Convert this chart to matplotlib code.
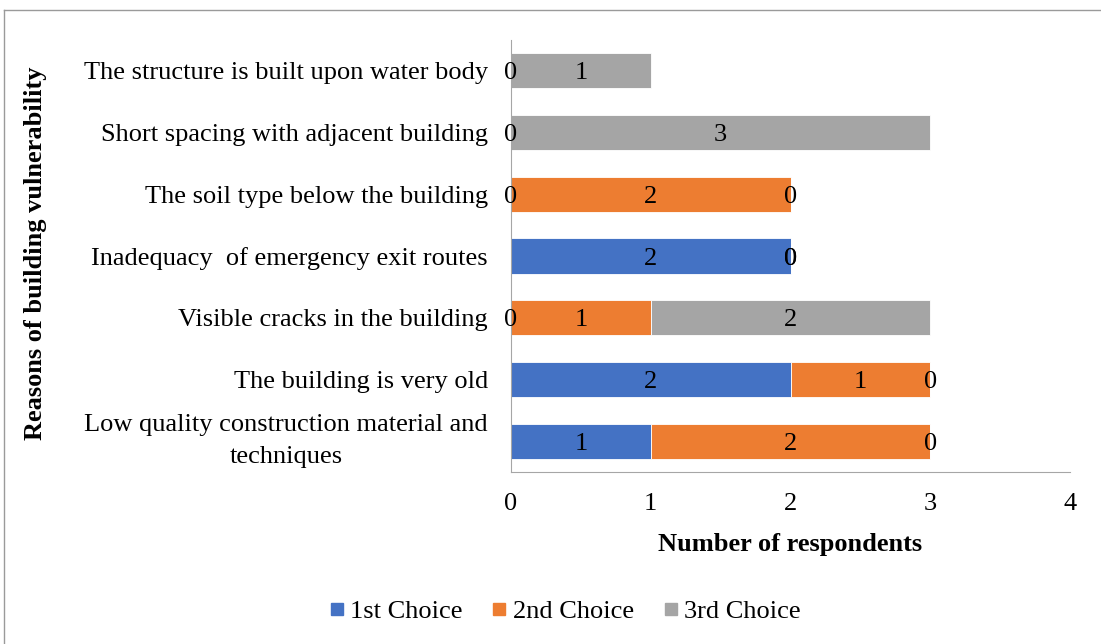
import numpy as np
import matplotlib.pyplot as plt
from matplotlib.lines import Line2D

plt.rcParams['font.family'] = ['Liberation Serif', 'DejaVu Serif']

reasons = [
    "Low quality construction material and\ntechniques",
    "The building is very old",
    "Visible cracks in the building",
    "Inadequacy  of emergency exit routes",
    "The soil type below the building",
    "Short spacing with adjacent building",
    "The structure is built upon water body",
]
series = ["1st Choice", "2nd Choice", "3rd Choice"]
first = [1, 2, 0, 2, 0, np.nan, np.nan]
second = [2, 1, 1, 0, 2, 0, 0]
third = [0, 0, 2, 0, 0, 3, 1]
colors = ["#4472C4", "#ED7D31", "#A5A5A5"]

fig = plt.figure(figsize=(11.01, 6.44), dpi=100)
ax = fig.add_axes([511 / 1101, 1 - 472 / 644, 559 / 1101, 432 / 644])

# outer chart border (top and left visible in reference)
fig.add_artist(Line2D([4 / 1101, 4 / 1101], [0, 1 - 10 / 644], color="#9a9a9a", lw=1))
fig.add_artist(Line2D([4 / 1101, 1], [1 - 10 / 644, 1 - 10 / 644], color="#9a9a9a", lw=1))

y = np.arange(len(reasons))
left = np.zeros(len(reasons))
for vals, name, c in zip([first, second, third], series, colors):
    vals = np.array(vals, dtype=float)
    w = np.nan_to_num(vals)
    ax.barh(y, w, left=left, height=0.57, color=c, edgecolor="white", linewidth=0.6, label=name)
    for yi, v, l in zip(y, vals, left):
        if np.isnan(v):
            continue
        ax.text(l + v / 2, yi, f"{int(v)}", ha="center", va="center_baseline", fontsize=19)
    left = left + w

ax.set_xlim(0, 4)
ax.set_ylim(-0.5, len(reasons) - 0.5)
ax.set_xticks([0, 1, 2, 3, 4])
ax.set_yticks(y)
ax.set_yticklabels(reasons)
for lab in ax.get_yticklabels():
    lab.set_multialignment("center")
    lab.set_linespacing(1.6)
    if "\n" in lab.get_text():
        lab.set_va("center")
ax.tick_params(axis="both", length=0, labelsize=19)
ax.tick_params(axis="y", pad=16.5)
ax.tick_params(axis="x", pad=15)
for s in ["top", "right"]:
    ax.spines[s].set_visible(False)
for s in ["left", "bottom"]:
    ax.spines[s].set_color("#a6a6a6")

ax.set_xlabel("Number of respondents", fontsize=19, fontweight="bold", labelpad=13)
fig.text(36 / 1101, 1 - 253 / 644, "Reasons of building vulnerability", rotation=90,
         ha="center", va="center", fontsize=19, fontweight="bold")

handles = [Line2D([], [], marker="s", ls="", color=c, markersize=8) for c in colors]
fig.legend(handles, series, loc="center", bbox_to_anchor=(562 / 1101, 1 - 611 / 644),
           ncol=3, frameon=False, fontsize=19, handlelength=1.0,
           handletextpad=0.0, columnspacing=0.9)

fig.savefig("out.png", dpi=100)
